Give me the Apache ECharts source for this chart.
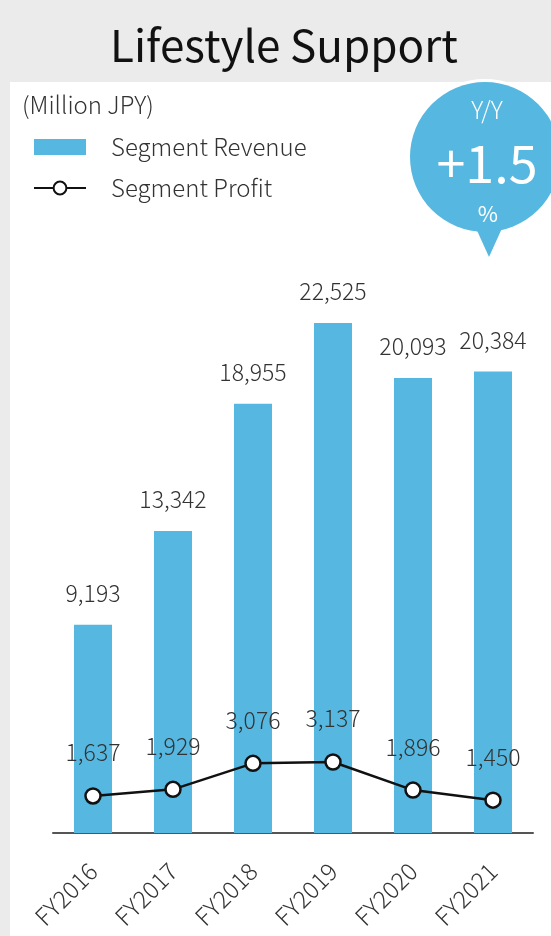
<!DOCTYPE html>
<html>
<head>
<meta charset="utf-8">
<script src="https://cdn.jsdelivr.net/npm/echarts@6/dist/echarts.min.js"></script>
<style>
  html, body { margin: 0; padding: 0; background: #ebebeb; }
  #chart { width: 551px; height: 936px; }
</style>
</head>
<body>
<div id="chart"></div>
<script>
// Segment figures, million JPY
const categories = ['FY2016', 'FY2017', 'FY2018', 'FY2019', 'FY2020', 'FY2021'];
const revenue = [9193, 13342, 18955, 22525, 20093, 20384];
const profit = [1637, 1929, 3076, 3137, 1896, 1450];
const yoyChange = '+1.5';

const FONT = '"Noto Sans CJK JP", "Noto Sans", sans-serif';
const BLUE = '#56b8e0';
const TEXT = '#333';
const LIGHT = 300;

const fmt = v => v.toLocaleString('en-US');

const chart = echarts.init(document.getElementById('chart'), null, { renderer: 'canvas' });

chart.setOption({
  backgroundColor: '#ebebeb',
  animation: false,
  textStyle: { fontFamily: FONT },
  grid: { left: 53, right: 18, top: 267, bottom: 103 },
  legend: {
    orient: 'vertical',
    left: 33,
    top: 135,
    padding: 0,
    itemWidth: 52,
    itemHeight: 16,
    itemGap: 17,
    textStyle: { fontFamily: FONT, fontWeight: LIGHT, fontSize: 24, color: TEXT, padding: [0, 0, 0, 20] },
    data: [
      { name: 'Segment Revenue', icon: 'rect' },
      { name: 'Segment Profit' }
    ]
  },
  xAxis: {
    type: 'category',
    data: categories,
    axisLine: { lineStyle: { color: '#555', width: 2 } },
    axisTick: { show: false },
    axisLabel: {
      rotate: 45,
      margin: 34,
      fontFamily: FONT,
      fontWeight: LIGHT,
      fontSize: 24,
      color: TEXT
    }
  },
  yAxis: {
    type: 'value',
    min: 0,
    max: 25000,
    show: false,
    splitLine: { show: false }
  },
  graphic: [
    // white card below the title band
    { type: 'rect', z: -10, silent: true, shape: { x: 10, y: 82, width: 541, height: 854 }, style: { fill: '#fff' } },
    {
      type: 'text', x: 284, y: 45, silent: true,
      style: { text: 'Lifestyle Support', fill: '#111', font: '44px ' + FONT, align: 'center', verticalAlign: 'middle' }
    },
    {
      type: 'text', x: 22, y: 105, silent: true,
      style: { text: '(Million JPY)', fill: TEXT, font: LIGHT + ' 24px ' + FONT, align: 'left', verticalAlign: 'middle' }
    },
    // Y/Y speech bubble: white halo, tail, then the blue disc on top
    {
      type: 'group', silent: true, z: 10,
      children: [
        { type: 'circle', shape: { cx: 485, cy: 157, r: 78 }, style: { fill: '#fff' } },
        { type: 'polygon', shape: { points: [[470, 215], [508, 215], [489, 257]] }, style: { fill: BLUE } },
        { type: 'circle', shape: { cx: 485, cy: 157, r: 75 }, style: { fill: BLUE } },
        { type: 'text', x: 487, y: 110, style: { text: 'Y/Y', fill: '#fff', font: LIGHT + ' 24px ' + FONT, align: 'center', verticalAlign: 'middle' } },
        { type: 'text', x: 487, y: 163, style: { text: yoyChange, fill: '#fff', font: '52px ' + FONT, align: 'center', verticalAlign: 'middle' } },
        { type: 'text', x: 488, y: 214, style: { text: '%', fill: '#fff', font: '22px ' + FONT, align: 'center', verticalAlign: 'middle' } }
      ]
    }
  ],
  series: [
    {
      name: 'Segment Revenue',
      type: 'bar',
      data: revenue,
      barWidth: 38,
      itemStyle: { color: BLUE },
      label: {
        show: true,
        position: 'top',
        distance: 20,
        fontFamily: FONT,
        fontWeight: LIGHT,
        fontSize: 23,
        color: TEXT,
        formatter: p => fmt(p.value)
      }
    },
    {
      name: 'Segment Profit',
      type: 'line',
      data: profit,
      symbol: 'circle',
      symbolSize: 15,
      lineStyle: { color: '#111', width: 2.5 },
      itemStyle: { color: '#fff', borderColor: '#111', borderWidth: 2.5 },
      label: {
        show: true,
        position: 'top',
        distance: 23,
        fontFamily: FONT,
        fontWeight: LIGHT,
        fontSize: 23,
        color: TEXT,
        formatter: p => fmt(p.value)
      },
      z: 5
    }
  ]
});
</script>
</body>
</html>
